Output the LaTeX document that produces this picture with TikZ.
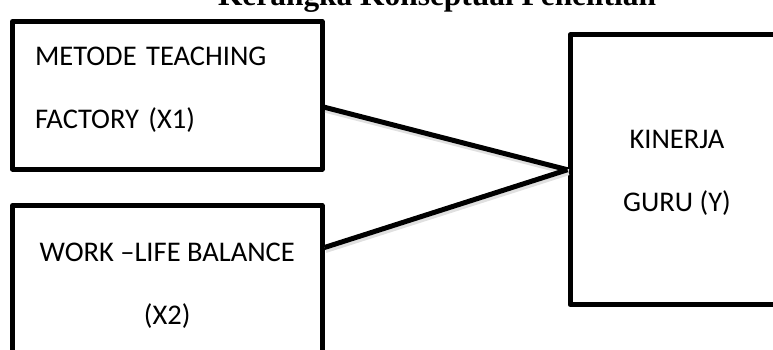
\documentclass[tikz,border=0pt]{standalone}
\usepackage{fontspec}
\setmainfont{Carlito}
\newfontfamily\titlefont{Liberation Serif}
\usetikzlibrary{positioning}

\tikzstyle{box} = [draw, rectangle, line width=5pt, line join=round, font=\fontsize{28.5}{63}\selectfont]
\tikzstyle{line} = [draw, line width=5pt, preaction={draw=black!12, line width=6pt, transform canvas={shift={(1pt,-2.5pt)}}}]

\begin{document}
\begin{tikzpicture}[x=1pt, y=-1pt]
    \useasboundingbox (0,0) rectangle (773,350);
    \clip (0,0) rectangle (773,350);
    % Title (cut off at the top)
    \node [anchor=base, inner sep=0, font=\titlefont\bfseries\fontsize{31.4}{36}\selectfont] (title) at (437,6) {Kerangka Konseptual Penelitian};
    % Place nodes
    \node [box, minimum width=309.5pt, minimum height=147.5pt, text width=264.5pt, inner xsep=22.5pt, align=left] (tf) at (167.25,95.25) {METODE TEACHING\\FACTORY (X1)\rule[-15pt]{0pt}{0pt}};
    \node [box, minimum width=309.5pt, minimum height=160pt, align=center] (wlb) at (167.25,285.5) {WORK --LIFE BALANCE\\(X2)};
    \node [box, minimum width=214pt, minimum height=269.5pt, align=center] (kg) at (677,169.75) {\rule{0pt}{25pt}KINERJA\\GURU (Y)};
    % Draw edges
    \draw [line] ([yshift=-12pt]tf.east) -- (kg.west);
    \draw [line] ([yshift=38pt]wlb.east) -- (kg.west);
\end{tikzpicture}
\end{document}
